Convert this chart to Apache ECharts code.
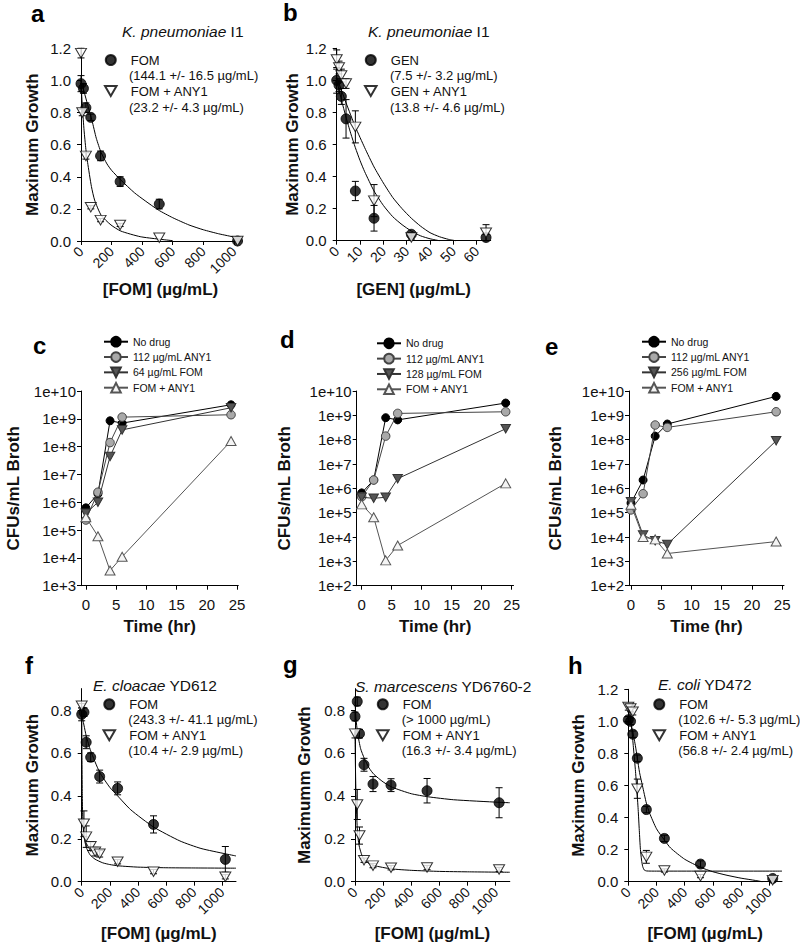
<!DOCTYPE html>
<html><head><meta charset="utf-8">
<script src="https://cdn.jsdelivr.net/npm/echarts@6/dist/echarts.min.js"></script>
<style>html,body{margin:0;padding:0;background:#fff}#c{width:800px;height:947px}</style>
</head><body><div id="c"></div>
<script>
// ---------------- DATA ----------------
const doseTicks = [0, 200, 400, 600, 800, 1000];
const genTicks = [0, 10, 20, 30, 40, 50, 60];
const growthTicks12 = [0, 0.2, 0.4, 0.6, 0.8, 1.0, 1.2];
const growthTicks08 = [0, 0.2, 0.4, 0.6, 0.8];
const timeTicks = [0, 5, 10, 15, 20, 25];
const timePoints = [0, 2, 4, 6, 24];

// panel a
const aFomX = [0, 16, 32, 64, 128, 256, 512, 1024];
const aFomY = [0.98, 0.95, 0.83, 0.77, 0.53, 0.37, 0.23, 0.0];
const aFomErr = [0.05, 0.03, 0.03, 0.02, 0.03, 0.03, 0.03, 0];
const aComboX = [0, 8, 32, 64, 128, 256, 512, 1024];
const aComboY = [1.17, 0.80, 0.53, 0.21, 0.13, 0.10, 0.02, 0.0];
const aComboErr = [0.03, 0.02, 0.02, 0.01, 0.01, 0.01, 0, 0];
const aFomFitX = [0, 20, 43, 72, 100, 132, 170, 200, 260, 350, 420, 506, 600, 706, 800, 900, 1000];
const aFomFitY = [1.0, 0.93, 0.85, 0.75, 0.64, 0.55, 0.48, 0.44, 0.38, 0.3, 0.25, 0.193, 0.145, 0.1, 0.07, 0.045, 0.025];
const aComboFitX = [0, 5, 10, 20, 32, 43, 68, 89, 132, 196, 260, 387, 506, 600];
const aComboFitY = [1.0, 0.9, 0.82, 0.69, 0.57, 0.49, 0.34, 0.255, 0.16, 0.1, 0.062, 0.027, 0.012, 0.002];

// panel b
const bGenX = [0, 1, 2, 4, 8, 16, 32, 64];
const bGenY = [1.0, 0.97, 0.9, 0.76, 0.31, 0.14, 0.04, 0.02];
const bGenErr = [0.08, 0.04, 0.05, 0.12, 0.06, 0.08, 0.01, 0.02];
const bComboX = [0, 1, 2, 4, 8, 16, 32, 64];
const bComboY = [1.13, 1.08, 1.03, 0.98, 0.71, 0.25, 0.02, 0.05];
const bComboErr = [0.06, 0.04, 0.04, 0.03, 0.1, 0.1, 0.01, 0.05];
const bGenFitX = [0, 2, 4, 6, 8, 10, 12, 16, 20, 24, 28, 32, 36, 40, 44];
const bGenFitY = [1.0, 0.88, 0.77, 0.67, 0.58, 0.5, 0.43, 0.31, 0.22, 0.15, 0.1, 0.06, 0.03, 0.012, 0.0];
const bComboFitX = [0, 2, 4, 8, 12, 16, 20, 24, 28, 32, 36, 40, 44, 48, 51];
const bComboFitY = [1.02, 0.94, 0.86, 0.71, 0.58, 0.46, 0.36, 0.27, 0.2, 0.14, 0.09, 0.05, 0.025, 0.008, 0.0];

// panel c (CFU/mL at timePoints)
const cNoDrug = [6.3e5, 2.0e6, 8.5e8, 7.0e8, 3.2e9];
const cAny1 = [2.3e5, 2.3e6, 1.4e8, 1.15e9, 1.4e9];
const cFom = [4.0e5, 1.0e6, 4.4e7, 4.0e8, 2.5e9];
const cCombo = [2.9e5, 6.0e4, 3.5e3, 1.1e4, 1.6e8];
// panel d
const dNoDrug = [6.5e5, 2.2e6, 8.0e8, 6.5e8, 3.2e9];
const dAny1 = [4.5e5, 2.2e6, 1.4e8, 1.2e9, 1.4e9];
const dFom = [4.3e5, 3.9e5, 4.3e5, 2.5e6, 2.8e8];
const dCombo = [2.2e5, 6.5e4, 1.1e3, 4.5e3, 1.6e6];
// panel e
const eNoDrug = [2.5e5, 2.2e6, 1.4e8, 4.4e8, 6.0e9];
const eAny1 = [1.3e5, 6.0e5, 4.0e8, 3.2e8, 1.4e9];
const eFom = [2.8e5, 1.2e4, 7.0e3, 5.0e3, 9.0e7];
const eCombo = [2.1e5, 1.0e4, 8.0e3, 2.1e3, 6.5e3];

// panel f
const fFomX = [0, 16, 32, 64, 128, 256, 512, 1024];
const fFomY = [0.78, 0.79, 0.65, 0.58, 0.49, 0.435, 0.267, 0.104];
const fFomErr = [0.03, 0.02, 0.03, 0.02, 0.03, 0.03, 0.04, 0.06];
const fComboX = [0, 16, 32, 64, 96, 128, 256, 512, 1024];
const fComboY = [0.82, 0.27, 0.21, 0.165, 0.14, 0.13, 0.093, 0.047, 0.023];
const fComboErr = [0.01, 0.06, 0.05, 0.02, 0.02, 0.015, 0.01, 0.01, 0.01];
const fFomFitX = [0, 16, 32, 64, 128, 200, 256, 350, 512, 700, 850, 1024, 1100];
const fFomFitY = [0.78, 0.73, 0.68, 0.61, 0.51, 0.44, 0.4, 0.335, 0.255, 0.19, 0.155, 0.13, 0.12];
const fComboFitX = [0, 1, 2, 4, 6, 10, 17, 25, 36, 60, 95, 150, 200, 261, 400, 600, 800, 1100];
const fComboFitY = [0.82, 0.7, 0.58, 0.42, 0.33, 0.26, 0.21, 0.18, 0.155, 0.125, 0.105, 0.088, 0.08, 0.074, 0.068, 0.065, 0.064, 0.063];

// panel g
const gFomX = [0, 16, 32, 64, 128, 256, 512, 1024];
const gFomY = [0.77, 0.84, 0.69, 0.545, 0.455, 0.45, 0.424, 0.368];
const gFomErr = [0.02, 0.02, 0.02, 0.03, 0.035, 0.03, 0.057, 0.07];
const gComboX = [0, 16, 32, 64, 128, 256, 512, 1024];
const gComboY = [0.69, 0.36, 0.215, 0.1, 0.075, 0.065, 0.066, 0.057];
const gComboErr = [0.02, 0.07, 0.04, 0.01, 0.01, 0.01, 0.01, 0.01];
const gFomFitX = [0, 5, 10, 19, 40, 66, 100, 135, 200, 265, 400, 517, 700, 1024, 1100];
const gFomFitY = [0.84, 0.78, 0.74, 0.69, 0.62, 0.575, 0.53, 0.5, 0.465, 0.44, 0.41, 0.396, 0.382, 0.37, 0.368];
const gComboFitX = [0, 4, 8, 16, 24, 32, 48, 64, 100, 135, 256, 400, 600, 800, 1100];
const gComboFitY = [0.69, 0.5, 0.38, 0.25, 0.19, 0.16, 0.125, 0.105, 0.085, 0.075, 0.06, 0.053, 0.048, 0.046, 0.044];

// panel h
const hFomX = [0, 16, 32, 64, 128, 256, 512, 1024];
const hFomY = [1.01, 1.0, 0.92, 0.77, 0.45, 0.27, 0.11, 0.02];
const hFomErr = [0.02, 0.02, 0.02, 0.02, 0.02, 0.02, 0.02, 0.01];
const hComboX = [0, 16, 32, 64, 128, 256, 512, 1024];
const hComboY = [1.09, 1.08, 1.06, 0.58, 0.155, 0.07, 0.035, 0.01];
const hComboErr = [0.02, 0.02, 0.02, 0.06, 0.04, 0.01, 0.01, 0.01];
const hFomFitX = [0, 25, 50, 64, 80, 100, 128, 150, 200, 256, 300, 400, 512, 600, 700, 800, 900, 950];
const hFomFitY = [1.02, 0.96, 0.85, 0.77, 0.68, 0.6, 0.49, 0.43, 0.33, 0.26, 0.21, 0.14, 0.09, 0.062, 0.04, 0.022, 0.008, 0.0];
const hComboFitX = [0, 10, 20, 30, 40, 50, 60, 70, 78, 86, 94, 102, 113, 130, 200, 1090];
const hComboFitY = [1.07, 1.05, 0.99, 0.9, 0.8, 0.7, 0.58, 0.45, 0.32, 0.2, 0.135, 0.095, 0.073, 0.067, 0.066, 0.066];

// legend / label texts
const tkLabelsC = ['No drug', '112 µg/mL ANY1', '64 µg/mL FOM', 'FOM + ANY1'];
const tkLabelsD = ['No drug', '112 µg/mL ANY1', '128 µg/mL FOM', 'FOM + ANY1'];
const tkLabelsE = ['No drug', '112 µg/mL ANY1', '256 µg/mL FOM', 'FOM + ANY1'];

// ---------------- BUILD ----------------
const FONT = "'Liberation Sans', Arial, Helvetica, sans-serif";
const TXT = '#111';
const DOWN_TRI = 'path://M0,0 L10,0 L5,8.66 Z';

const grids = [
  {left: 81, top: 48.3, width: 159, height: 192.7},
  {left: 336.7, top: 48.3, width: 154, height: 192.4},
  {left: 81, top: 391, width: 157.3, height: 194.7},
  {left: 356.7, top: 391, width: 156.8, height: 194.7},
  {left: 629, top: 391, width: 155, height: 194.7},
  {left: 81.7, top: 688.6, width: 154.3, height: 193.1},
  {left: 355, top: 688.6, width: 154.8, height: 193.1},
  {left: 628.3, top: 689.3, width: 153.7, height: 192.4}
];

const axisLineCfg = {show: true, onZero: false, lineStyle: {color: '#000', width: 1}};
function xDose(gi, min, max, ticks, name, gap, rotate) {
  return {
    type: 'value', gridIndex: gi, min, max,
    name, nameLocation: 'middle', nameGap: gap, nameMoveOverlap: false,
    nameTextStyle: {fontFamily: FONT, fontWeight: 'bold', fontSize: 17, color: TXT},
    axisLine: axisLineCfg,
    axisTick: {show: true, length: 4, customValues: ticks, lineStyle: {color: '#000'}},
    axisLabel: {customValues: ticks, rotate: rotate ? 45 : 0, margin: rotate ? 8 : 11,
      fontFamily: FONT, fontSize: rotate ? 14 : 15, color: TXT, formatter: v => String(v)},
    splitLine: {show: false}
  };
}
function yLin(gi, max, ticks, name, gap) {
  return {
    type: 'value', gridIndex: gi, min: 0, max,
    name, nameLocation: 'middle', nameGap: gap, nameMoveOverlap: false,
    nameTextStyle: {fontFamily: FONT, fontWeight: 'bold', fontSize: 17, color: TXT},
    axisLine: axisLineCfg,
    axisTick: {show: true, length: 4, customValues: ticks, lineStyle: {color: '#000'}},
    axisLabel: {customValues: ticks, margin: 10, fontFamily: FONT, fontSize: 15, color: TXT,
      formatter: v => v.toFixed(1)},
    splitLine: {show: false}
  };
}
function yLog(gi, min, max, name, gap) {
  return {
    type: 'log', logBase: 10, gridIndex: gi, min, max,
    name, nameLocation: 'middle', nameGap: gap, nameMoveOverlap: false,
    nameTextStyle: {fontFamily: FONT, fontWeight: 'bold', fontSize: 17, color: TXT},
    axisLine: axisLineCfg,
    axisTick: {show: true, length: 4, lineStyle: {color: '#000'}},
    minorTick: {show: false},
    axisLabel: {margin: 5, fontFamily: FONT, fontSize: 15, color: TXT,
      formatter: v => '1e+' + Math.round(Math.log10(v))},
    splitLine: {show: false}
  };
}

const xAxes = [
  xDose(0, 0, 1040, doseTicks, '[FOM] (µg/mL)', 40, true),
  xDose(1, 0, 66, genTicks, '[GEN] (µg/mL)', 40, true),
  xDose(2, -0.8, 25.2, timeTicks, 'Time (hr)', 32, false),
  xDose(3, -0.83, 25.3, timeTicks, 'Time (hr)', 32, false),
  xDose(4, -0.33, 25.3, timeTicks, 'Time (hr)', 32, false),
  xDose(5, 0, 1100, doseTicks, '[FOM] (µg/mL)', 43, true),
  xDose(6, 0, 1100, doseTicks, '[FOM] (µg/mL)', 43, true),
  xDose(7, 0, 1090, doseTicks, '[FOM] (µg/mL)', 43, true)
];
const yAxes = [
  yLin(0, 1.2, growthTicks12, 'Maximum Growth', 40.5),
  yLin(1, 1.2, growthTicks12, 'Maximum Growth', 35.5),
  yLog(2, 1e3, 1e10, 'CFUs/mL Broth', 59),
  yLog(3, 1e2, 1e10, 'CFUs/mL Broth', 63.5),
  yLog(4, 1e2, 1e10, 'CFUs/mL Broth', 65),
  yLin(5, 0.9, growthTicks08, 'Maximum Growth', 41),
  yLin(6, 0.9, growthTicks08, 'Maximumm Growth', 42.5),
  yLin(7, 1.2, growthTicks12, 'Maximum Growth', 41.5)
];

const series = [];
const zip = (xs, ys) => xs.map((x, i) => [x, ys[i]]);

function errBars(gi, xs, ys, es) {
  series.push({
    type: 'custom', xAxisIndex: gi, yAxisIndex: gi, z: 1, silent: true, clip: false,
    data: xs.map((x, i) => [x, ys[i] - es[i], ys[i] + es[i], es[i]]),
    encode: {x: 0, y: [1, 2]},
    renderItem(params, api) {
      if (!(api.value(3) > 0)) return null;
      const lo = api.coord([api.value(0), api.value(1)]);
      const hi = api.coord([api.value(0), api.value(2)]);
      const w = 3.5, st = {stroke: '#000', lineWidth: 1};
      return {type: 'group', children: [
        {type: 'line', shape: {x1: lo[0], y1: lo[1], x2: hi[0], y2: hi[1]}, style: st},
        {type: 'line', shape: {x1: lo[0] - w, y1: lo[1], x2: lo[0] + w, y2: lo[1]}, style: st},
        {type: 'line', shape: {x1: hi[0] - w, y1: hi[1], x2: hi[0] + w, y2: hi[1]}, style: st}
      ]};
    }
  });
}
function fit(gi, xs, ys) {
  series.push({
    type: 'line', xAxisIndex: gi, yAxisIndex: gi, data: zip(xs, ys), z: 2,
    showSymbol: false, symbol: 'none', smooth: 0.2, clip: false, silent: true,
    lineStyle: {color: '#000', width: 1}
  });
}
function dots(name, gi, xs, ys, filled) {
  series.push({
    type: 'scatter', name, xAxisIndex: gi, yAxisIndex: gi, data: zip(xs, ys), z: 3, clip: false,
    symbol: filled ? 'circle' : DOWN_TRI,
    symbolSize: filled ? 10 : [11, 9.5],
    itemStyle: filled ? {color: '#000', borderColor: '#000', borderWidth: 1}
                      : {color: '#fff', borderColor: '#000', borderWidth: 1},
    silent: true
  });
}
function dosePanel(p, gi, xs1, ys1, es1, xs2, ys2, es2, fx1, fy1, fx2, fy2, n1, n2) {
  errBars(gi, xs1, ys1, es1);
  errBars(gi, xs2, ys2, es2);
  fit(gi, fx1, fy1);
  fit(gi, fx2, fy2);
  dots(p + '|' + n1, gi, xs1, ys1, true);
  dots(p + '|' + n2, gi, xs2, ys2, false);
}
dosePanel('a', 0, aFomX, aFomY, aFomErr, aComboX, aComboY, aComboErr, aFomFitX, aFomFitY, aComboFitX, aComboFitY, 'FOM', 'FOM + ANY1');
dosePanel('b', 1, bGenX, bGenY, bGenErr, bComboX, bComboY, bComboErr, bGenFitX, bGenFitY, bComboFitX, bComboFitY, 'GEN', 'GEN + ANY1');
dosePanel('f', 5, fFomX, fFomY, fFomErr, fComboX, fComboY, fComboErr, fFomFitX, fFomFitY, fComboFitX, fComboFitY, 'FOM', 'FOM + ANY1');
dosePanel('g', 6, gFomX, gFomY, gFomErr, gComboX, gComboY, gComboErr, gFomFitX, gFomFitY, gComboFitX, gComboFitY, 'FOM', 'FOM + ANY1');
dosePanel('h', 7, hFomX, hFomY, hFomErr, hComboX, hComboY, hComboErr, hFomFitX, hFomFitY, hComboFitX, hComboFitY, 'FOM', 'FOM + ANY1');

const tkStyles = [
  {symbol: 'circle', size: 8, fill: '#000', stroke: '#000', line: '#000'},
  {symbol: 'circle', size: 8.5, fill: '#a9a9a9', stroke: '#444', line: '#444'},
  {symbol: DOWN_TRI, size: [9.5, 8.5], fill: '#555', stroke: '#333', line: '#333'},
  {symbol: 'triangle', size: [10, 9], fill: '#f4f4f4', stroke: '#555', line: '#555'}
];
function tkPanel(p, gi, labels, sets) {
  sets.forEach((ys, k) => {
    const s = tkStyles[k];
    series.push({
      type: 'line', name: p + '|' + labels[k], xAxisIndex: gi, yAxisIndex: gi,
      data: zip(timePoints, ys), z: 3 + k, clip: false, silent: true,
      symbol: s.symbol, symbolSize: s.size, showSymbol: true,
      itemStyle: {color: s.fill, borderColor: s.stroke, borderWidth: 1},
      lineStyle: {color: s.line, width: 1}
    });
  });
}
tkPanel('c', 2, tkLabelsC, [cNoDrug, cAny1, cFom, cCombo]);
tkPanel('d', 3, tkLabelsD, [dNoDrug, dAny1, dFom, dCombo]);
tkPanel('e', 4, tkLabelsE, [eNoDrug, eAny1, eFom, eCombo]);

const stripName = n => n.split('|')[1];
function doseLegend(left, top, names) {
  return {orient: 'vertical', left, top, padding: 0, itemGap: 18, itemWidth: 30, itemHeight: 10,
    selectedMode: false, data: names, formatter: stripName,
    textStyle: {fontFamily: FONT, fontSize: 13, lineHeight: 10, color: TXT}};
}
function tkLegend(left, top, p, labels) {
  return {orient: 'vertical', left, top, padding: 0, itemGap: 3.33, itemWidth: 24, itemHeight: 12,
    selectedMode: false, data: labels.map(l => p + '|' + l), formatter: stripName,
    textStyle: {fontFamily: FONT, fontSize: 10.5, lineHeight: 12, color: TXT}};
}
const legends = [
  doseLegend(104, 53.5, ['a|FOM', 'a|FOM + ANY1']),
  doseLegend(364, 53.5, ['b|GEN', 'b|GEN + ANY1']),
  doseLegend(102.5, 697.8, ['f|FOM', 'f|FOM + ANY1']),
  doseLegend(376, 697.8, ['g|FOM', 'g|FOM + ANY1']),
  doseLegend(652.5, 697.8, ['h|FOM', 'h|FOM + ANY1']),
  tkLegend(103, 335.7, 'c', tkLabelsC),
  tkLegend(376, 337.3, 'd', tkLabelsD),
  tkLegend(641, 335.7, 'e', tkLabelsE)
];

// free text
function txt(x, y, text, opts) {
  return {type: 'text', x, y, silent: true, style: Object.assign({
    text, fontFamily: FONT, fontSize: 13, fill: TXT, align: 'left', verticalAlign: 'middle'}, opts || {})};
}
const letterStyle = {fontSize: 24, fontWeight: 'bold', fill: '#000'};
const speciesStyle = sp => ({
  text: '{i|' + sp[0] + '}' + sp[1], fontSize: 15.5,
  rich: {i: {fontStyle: 'italic', fontSize: 15.5, fontFamily: FONT, fill: TXT}}
});
const graphics = [
  txt(31, 13, 'a', letterStyle), txt(283, 12, 'b', letterStyle),
  txt(33, 345, 'c', letterStyle), txt(280, 339, 'd', letterStyle),
  txt(545, 346, 'e', letterStyle), txt(25, 665, 'f', letterStyle),
  txt(283, 664, 'g', letterStyle), txt(568, 665, 'h', letterStyle),
  txt(122, 31.7, '', speciesStyle(['K. pneumoniae', ' I1'])),
  txt(368, 31.7, '', speciesStyle(['K. pneumoniae', ' I1'])),
  txt(93, 685, '', speciesStyle(['E. cloacae', ' YD612'])),
  txt(355, 686.7, '', speciesStyle(['S. marcescens', ' YD6760-2'])),
  txt(658, 684, '', speciesStyle(['E. coli', ' YD472'])),
  txt(129, 75, '(144.1 +/- 16.5 µg/mL)'), txt(129, 107.3, '(23.2 +/- 4.3 µg/mL)'),
  txt(390, 75, '(7.5 +/- 3.2 µg/mL)'), txt(390, 107, '(13.8 +/- 4.6 µg/mL)'),
  txt(128.3, 719, '(243.3 +/- 41.1 µg/mL)'), txt(128.3, 750, '(10.4 +/- 2.9 µg/mL)'),
  txt(401.7, 719, '(> 1000 µg/mL)'), txt(401.7, 750.7, '(16.3 +/- 3.4 µg/mL)'),
  txt(678.3, 719, '(102.6 +/- 5.3 µg/mL)'), txt(678.3, 750, '(56.8 +/- 2.4 µg/mL)')
];

const chart = echarts.init(document.getElementById('c'), null, {renderer: 'svg'});
chart.setOption({
  animation: false,
  backgroundColor: '#fff',
  textStyle: {fontFamily: FONT},
  grid: grids,
  xAxis: xAxes,
  yAxis: yAxes,
  legend: legends,
  series,
  graphic: graphics
});
</script></body></html>
